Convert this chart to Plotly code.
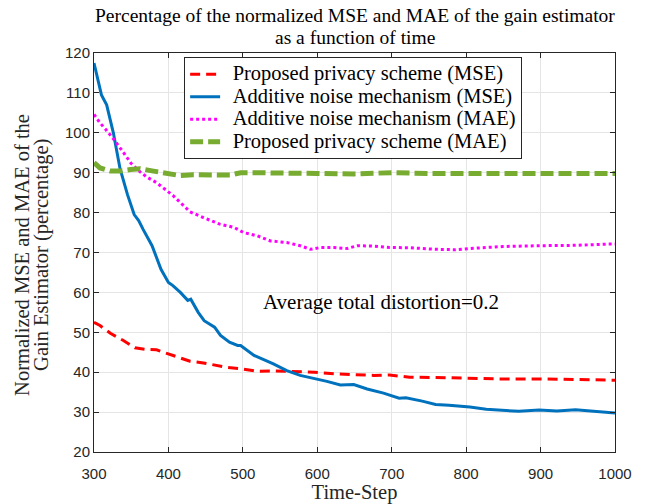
import plotly.graph_objects as go

# Additive noise mechanism (MSE)
blue_x = [300, 310, 317, 326, 335, 345, 354, 360, 366, 378, 390, 400, 406, 416, 426, 430, 440, 448, 462, 470,
          482, 493, 497, 515, 541, 559, 577, 600, 613, 631, 649, 667, 689, 710, 719, 741, 759, 777, 805, 827,
          849, 871, 898, 922, 947, 969, 991, 1000]
blue_y = [117.5, 109.5, 107, 100, 91, 84.5, 79.5, 78, 75.8, 71.7, 65.8, 62.5, 61.7, 60, 58, 58.3, 55, 52.9, 51.3, 49.2,
          47.5, 46.7, 46.7, 44.2, 42.1, 40.4, 39.2, 38.3, 37.7, 36.8, 36.9, 35.8, 34.75, 33.5, 33.6, 32.75, 31.9, 31.7, 31.25, 30.7,
          30.4, 30.2, 30.5, 30.3, 30.6, 30.3, 29.9, 29.8]

# Proposed privacy scheme (MSE)
red_x = [300, 308, 322, 340, 355, 371, 384, 400, 415, 429, 447, 465, 478, 500, 519, 541, 559, 573, 596, 623,
         649, 676, 697, 724, 751, 800, 849, 898, 938, 989, 1000]
red_y = [52.5, 51.7, 49.75, 47.9, 46.1, 45.7, 45.6, 44.6, 43.75, 42.75, 42.3, 41.7, 41.25, 40.8, 40.25, 40.3, 40.2, 40.2, 40, 39.6,
         39.4, 39.2, 39.3, 38.75, 38.7, 38.5, 38.3, 38.3, 38.25, 38, 38]

# Additive noise mechanism (MAE)
mag_x = [300, 308, 315, 326, 339, 350, 362, 371, 384, 395, 406, 415, 429, 447, 469, 488, 501, 519, 537, 559,
         577, 591, 604, 623, 640, 654, 676, 697, 724, 759, 786, 805, 849, 898, 947, 991, 1000]
mag_y = [104.6, 102.5, 101, 98.5, 95.2, 92.3, 90.2, 88.9, 87.5, 86, 84.3, 82.7, 80.2, 78.75, 77.1, 76.3, 75, 74.2, 72.9, 72.5,
         71.7, 70.8, 71.25, 71.25, 71, 71.7, 71.6, 71.25, 71.2, 70.8, 70.7, 71, 71.5, 71.7, 71.8, 72.1, 72.1]

# Proposed privacy scheme (MAE)
grn_x = [300, 308, 322, 335, 349, 362, 380, 398, 415, 433, 451, 469, 483, 497, 515, 533, 551, 600, 650, 700,
         750, 800, 850, 900, 950, 1000]
grn_y = [92.5, 91.2, 90.4, 90.4, 90.8, 91, 90.4, 89.75, 89.3, 89.5, 89.3, 89.4, 89.4, 90, 90, 89.9, 89.9, 89.8, 89.7, 90,
         89.8, 89.7, 89.8, 89.8, 89.8, 89.8]

series_names = ["Proposed privacy scheme (MSE)", "Additive noise mechanism (MSE)",
                "Additive noise mechanism (MAE)", "Proposed privacy scheme (MAE)"]

x_ticks = [300, 400, 500, 600, 700, 800, 900, 1000]
y_ticks = [20, 30, 40, 50, 60, 70, 80, 90, 100, 110, 120]

SERIF = "Liberation Serif"
SANS = "Liberation Sans"


def leg(name):
    return '&nbsp;&nbsp;<span style="font-size:20.5px">' + name + '</span>'


fig = go.Figure()
fig.add_trace(go.Scatter(x=red_x, y=red_y, mode="lines", name=leg(series_names[0]),
                         line=dict(color="#FF0000", width=3, dash="10px,6px")))
fig.add_trace(go.Scatter(x=blue_x, y=blue_y, mode="lines", name=leg(series_names[1]),
                         line=dict(color="#0072BD", width=3)))
fig.add_trace(go.Scatter(x=mag_x, y=mag_y, mode="lines", name=leg(series_names[2]),
                         line=dict(color="#FF00FF", width=3, dash="dot")))
fig.add_trace(go.Scatter(x=grn_x, y=grn_y, mode="lines", name=leg(series_names[3]),
                         line=dict(color="#77AC30", width=5, dash="13px,5px")))

axis_common = dict(showline=True, linecolor="#262626", linewidth=1, mirror="ticks", ticks="inside",
                   ticklen=5, tickcolor="#262626", showgrid=True, gridcolor="#E5E5E5", gridwidth=1,
                   zeroline=False, automargin=False, tickfont=dict(family=SANS, size=15, color="#262626"))

fig.update_xaxes(range=[300, 1000], tickvals=x_ticks, ticklabelstandoff=8, **axis_common,
                 title=dict(text="Time-Step", font=dict(family=SERIF, size=20.5, color="#262626"), standoff=0))
fig.update_yaxes(range=[20, 120], tickvals=y_ticks, **axis_common)

fig.add_annotation(text="Normalized MSE and MAE of the", textangle=-90,
                   xref="paper", yref="paper", x=(22 - 94) / 521, y=0.494, xanchor="center", yanchor="middle",
                   showarrow=False, font=dict(family=SERIF, size=20.5, color="#262626"))
fig.add_annotation(text="Gain Estimator (percentage)", textangle=-90,
                   xref="paper", yref="paper", x=(42 - 94) / 521, y=0.494, xanchor="center", yanchor="middle",
                   showarrow=False, font=dict(family=SERIF, size=20.5, color="#262626"))
fig.add_annotation(text="Average total distortion=0.2", x=686, y=57.6, xref="x", yref="y",
                   showarrow=False, font=dict(family=SERIF, size=21, color="#000000"))
fig.add_annotation(text="Percentage of the normalized MSE and MAE of the gain estimator",
                   xref="paper", yref="paper", x=0.501, y=1.0952, xanchor="center", yanchor="middle",
                   showarrow=False, font=dict(family=SERIF, size=19.5, color="#000000"))
fig.add_annotation(text="as a function of time",
                   xref="paper", yref="paper", x=0.501, y=1.0401, xanchor="center", yanchor="middle",
                   showarrow=False, font=dict(family=SERIF, size=19.5, color="#000000"))

fig.update_layout(
    width=652, height=504,
    margin=dict(l=94, r=37, t=53, b=52, autoexpand=False),
    paper_bgcolor="white", plot_bgcolor="white",
    legend=dict(x=0.173, y=0.99, xanchor="left", yanchor="top", bgcolor="white",
                bordercolor="#262626", borderwidth=1, font=dict(family=SERIF, size=15, color="#000000"),
                tracegroupgap=0, itemwidth=30),
    showlegend=True,
)

fig.write_html("out.html")
